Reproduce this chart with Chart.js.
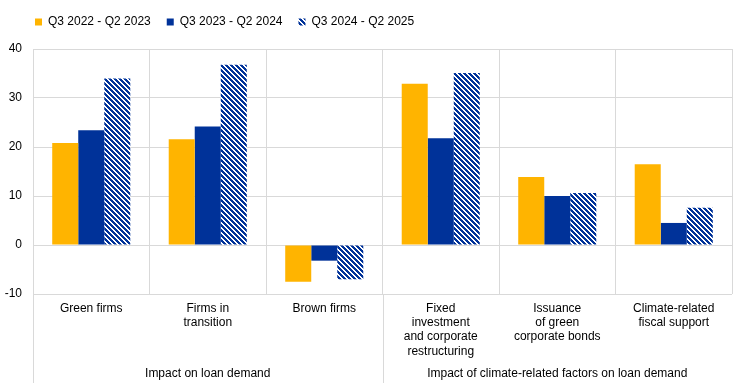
<!DOCTYPE html>
<html>
<head>
<meta charset="utf-8">
<script src="https://cdn.jsdelivr.net/npm/chart.js@4"></script>
<style>
  html, body { margin: 0; padding: 0; background: #fff; }
  #wrap { width: 744px; height: 383px; }
</style>
</head>
<body>
<div id="wrap"><canvas id="chart"></canvas></div>
<script>
const categories = [
  'Green firms',
  ['Firms in', 'transition'],
  'Brown firms',
  ['Fixed', 'investment', 'and corporate', 'restructuring'],
  ['Issuance', 'of green', 'corporate bonds'],
  ['Climate-related', 'fiscal support']
];
const groups = ['Impact on loan demand', 'Impact of climate-related factors on loan demand'];
const groupSizes = [3, 3];

const seriesNames = ['Q3 2022 - Q2 2023', 'Q3 2023 - Q2 2024', 'Q3 2024 - Q2 2025'];
const period1 = [20.8, 21.6, -7.5, 32.9, 13.9, 16.5];
const period2 = [23.4, 24.2, -3.2, 21.8, 10.0, 4.5];
const period3 = [34.0, 36.8, -7.0, 35.1, 10.6, 7.6];

const yellow = '#ffb400';
const blue = '#003299';
const gridColor = '#d9d9d9';

// diagonal blue/white hatch
function makeHatch() {
  const size = 10;
  const c = document.createElement('canvas');
  c.width = size; c.height = size;
  const g = c.getContext('2d');
  const img = g.createImageData(size, size);
  for (let y = 0; y < size; y++) {
    for (let x = 0; x < size; x++) {
      const i = (y * size + x) * 4;
      const on = ((x - y) % 5 + 5) % 5 < 3;
      img.data[i] = on ? 0 : 255;
      img.data[i + 1] = on ? 50 : 255;
      img.data[i + 2] = on ? 153 : 255;
      img.data[i + 3] = 255;
    }
  }
  g.putImageData(img, 0, 0);
  return g.createPattern(c, 'repeat');
}
const hatch = makeHatch();

const groupPlugin = {
  id: 'groupPlugin',
  beforeInit(chart) {
    const fit = chart.legend.fit;
    chart.legend.fit = function () {
      fit.bind(chart.legend)();
      this.height += 11;
    };
  },
  afterLayout(chart) {
    // shift the legend row so it starts over the plot
    chart.legend.left += 19;
    chart.legend.right += 19;
  },
  afterDraw(chart) {
    const ctx = chart.ctx;
    const x = chart.scales.x;
    const area = chart.chartArea;
    const bottom = chart.height;
    ctx.save();
    ctx.strokeStyle = gridColor;
    ctx.lineWidth = 1;
    let start = 0;
    const edges = [area.left];
    groupSizes.forEach((n) => {
      const last = start + n - 1;
      const right = last + 1 < categories.length
        ? (x.getPixelForTick(last) + x.getPixelForTick(last + 1)) / 2
        : area.right;
      edges.push(right);
      start += n;
    });
    edges.slice(0, -1).forEach((ex) => {
      const px = Math.round(ex) + 0.5;
      ctx.beginPath();
      ctx.moveTo(px, area.bottom);
      ctx.lineTo(px, bottom);
      ctx.stroke();
    });
    ctx.fillStyle = '#000';
    ctx.font = '12px "Liberation Sans", Arial, sans-serif';
    ctx.textAlign = 'center';
    ctx.textBaseline = 'middle';
    groups.forEach((g, i) => {
      ctx.fillText(g, (edges[i] + edges[i + 1]) / 2, bottom - 9);
    });
    ctx.restore();
  }
};

Chart.defaults.font.family = '"Liberation Sans", Arial, sans-serif';
Chart.defaults.font.size = 12;
Chart.defaults.color = '#000';

new Chart(document.getElementById('chart'), {
  type: 'bar',
  data: {
    labels: categories,
    datasets: [
      { label: seriesNames[0], data: period1, backgroundColor: yellow },
      { label: seriesNames[1], data: period2, backgroundColor: blue },
      { label: seriesNames[2], data: period3, backgroundColor: hatch }
    ]
  },
  options: {
    responsive: true,
    maintainAspectRatio: false,
    animation: false,
    layout: { padding: { left: 0, right: 12, top: 0, bottom: 0 } },
    datasets: { bar: { categoryPercentage: 0.67, barPercentage: 1.0 } },
    plugins: {
      legend: {
        position: 'top',
        align: 'start',
        labels: { boxWidth: 7, boxHeight: 7, padding: 16, font: { size: 12 } }
      },
      tooltip: { enabled: false }
    },
    scales: {
      x: {
        grid: { color: gridColor, drawTicks: false, offset: true },
        border: { display: false },
        ticks: { padding: 7, maxRotation: 0, autoSkip: false, font: { size: 12, lineHeight: 1.2 } },
        afterFit: (s) => { s.height = 89; }
      },
      y: {
        min: -10,
        max: 40,
        ticks: { stepSize: 10, padding: 11 },
        grid: { color: gridColor, drawTicks: false },
        border: { color: gridColor },
        afterFit: (s) => { s.width = 33; }
      }
    }
  },
  plugins: [groupPlugin]
});
</script>
</body>
</html>
